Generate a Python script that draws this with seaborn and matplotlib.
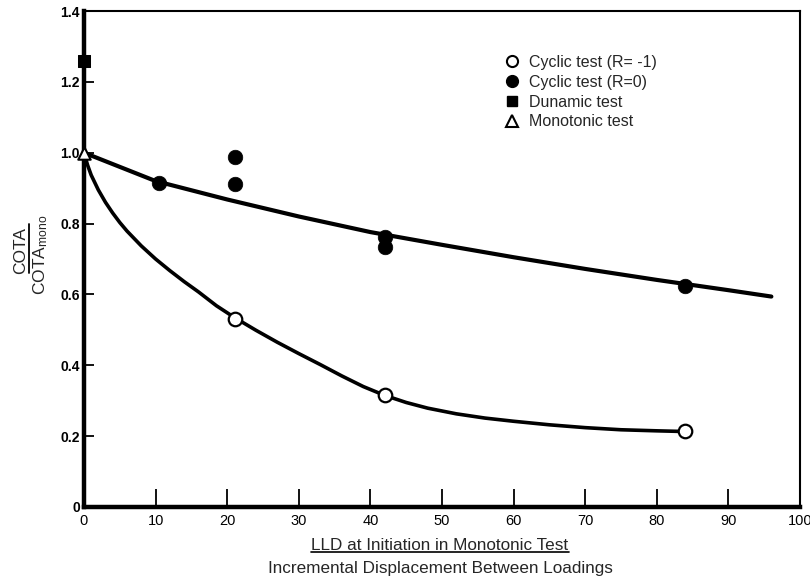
import numpy as np
import pandas as pd
import matplotlib
matplotlib.use("Agg")
import matplotlib.pyplot as plt
import seaborn as sns
from matplotlib.lines import Line2D

# ---- data ----
cyc_m1_x = [21.1, 42.0, 83.9]
cyc_m1_y = [0.532, 0.315, 0.214]

cyc_0_x = [10.5, 21.1, 21.1, 42.1, 42.1, 84.0]
cyc_0_y = [0.915, 0.989, 0.913, 0.763, 0.733, 0.625]

dyn_x = [0.0]
dyn_y = [1.258]

mono_x = [0.0]
mono_y = [1.0]

upper_fit_x = [0, 10, 20, 30, 40, 50, 60, 70, 80, 90, 96]
upper_fit_y = [1.0, 0.92, 0.868, 0.82, 0.776, 0.74, 0.705, 0.672, 0.641, 0.612, 0.594]

lower_fit_x = [0, 0.5, 1, 2, 3, 4, 5, 6, 8, 10, 12, 14, 16, 18.5, 21, 24, 27, 30, 33,
               36, 39, 42, 45, 48, 52, 56, 60, 65, 70, 75, 80, 84]
lower_fit_y = [1.0, 0.965, 0.937, 0.895, 0.86, 0.83, 0.803, 0.779, 0.737, 0.70, 0.667,
               0.636, 0.607, 0.568, 0.535, 0.499, 0.465, 0.433, 0.402,
               0.37, 0.34, 0.315, 0.295, 0.279, 0.263, 0.251, 0.242, 0.232, 0.224,
               0.218, 0.215, 0.213]

x_ticks = [0, 10, 20, 30, 40, 50, 60, 70, 80, 90, 100]
y_ticks = [0, 0.2, 0.4, 0.6, 0.8, 1.0, 1.2, 1.4]
y_tick_labels = ["0", "0.2", "0.4", "0.6", "0.8", "1.0", "1.2", "1.4"]

legend_labels = ["Cyclic test (R= -1)", "Cyclic test (R=0)", "Dunamic test", "Monotonic test"]

# ---- style ----
sns.set_style("ticks")
plt.rcParams["font.family"] = ["Liberation Sans", "DejaVu Sans"]
plt.rcParams["mathtext.fontset"] = "custom"
plt.rcParams["mathtext.rm"] = "Liberation Sans"
plt.rcParams["mathtext.it"] = "Liberation Sans"

W, H = 810, 580
fig = plt.figure(figsize=(8.1, 5.8), dpi=100)
ax = fig.add_axes([84 / W, 1 - 507 / H, (800 - 84) / W, (507 - 11) / H])

# fit curves
sns.lineplot(x=upper_fit_x, y=upper_fit_y, ax=ax, color="black", linewidth=3.0, sort=True, zorder=2)
sns.lineplot(x=lower_fit_x, y=lower_fit_y, ax=ax, color="black", linewidth=2.6, sort=True, zorder=2)

# points
sns.scatterplot(x=cyc_m1_x, y=cyc_m1_y, ax=ax, marker="o", s=95, facecolor="white",
                edgecolor="black", linewidth=1.6, zorder=4, clip_on=False)
sns.scatterplot(x=cyc_0_x, y=cyc_0_y, ax=ax, marker="o", s=110, color="black",
                edgecolor="black", linewidth=0.5, zorder=4, clip_on=False)
sns.scatterplot(x=dyn_x, y=dyn_y, ax=ax, marker="s", s=85, color="black",
                edgecolor="black", zorder=4, clip_on=False)
sns.scatterplot(x=mono_x, y=mono_y, ax=ax, marker="^", s=80, facecolor="white",
                edgecolor="black", linewidth=1.5, zorder=5, clip_on=False)

ax.set_xlim(0, 100)
ax.set_ylim(0, 1.4)
ax.set_xticks(x_ticks)
ax.set_xticklabels([str(v) for v in x_ticks], fontsize=10.5)
ax.set_yticks(y_ticks)
ax.set_yticklabels(y_tick_labels, fontsize=10, fontweight="bold")
ax.tick_params(axis="x", direction="in", length=13, width=1.3, pad=5, colors="black")
ax.tick_params(axis="y", direction="in", length=7, width=1.3, pad=3, colors="black")
ax.set_xlabel("")
ax.set_ylabel("")

for side in ["left", "bottom"]:
    ax.spines[side].set_linewidth(3.2)
for side in ["top", "right"]:
    ax.spines[side].set_linewidth(1.5)
for s in ax.spines.values():
    s.set_color("black")

# legend
handles = [
    Line2D([], [], marker="o", linestyle="none", markersize=8, markerfacecolor="white",
           markeredgecolor="black", markeredgewidth=1.5),
    Line2D([], [], marker="o", linestyle="none", markersize=8.5, markerfacecolor="black",
           markeredgecolor="black"),
    Line2D([], [], marker="s", linestyle="none", markersize=7, markerfacecolor="black",
           markeredgecolor="black"),
    Line2D([], [], marker="^", linestyle="none", markersize=8, markerfacecolor="white",
           markeredgecolor="black", markeredgewidth=1.5),
]
ax.legend(handles, legend_labels, loc="upper left",
          bbox_to_anchor=((504 - 84) / 716, (507 - 55) / 496),
          frameon=False, fontsize=11.5, handletextpad=0.55, labelspacing=0.3,
          handlelength=1.0, borderaxespad=0, borderpad=0)

# y label: COTA over COTA_mono (rotated)
def fx(px):
    return px / W

def fy(py):
    return 1 - py / H

fig.text(fx(21), fy(250), "COTA", rotation=90, ha="center", va="center", fontsize=12.5)
fig.add_artist(Line2D([fx(29), fx(29)], [fy(224), fy(273)], transform=fig.transFigure,
                      color="black", linewidth=1.3))
fig.text(fx(41), fy(255), r"COTA$_{\mathrm{mono}}$", rotation=90, ha="center", va="center",
         fontsize=12.5)

# x labels
t1 = fig.text(fx(440), fy(545), "LLD at Initiation in Monotonic Test",
              ha="center", va="center", fontsize=12.3)
t2 = fig.text(fx(440), fy(568), "Incremental Displacement Between Loadings",
              ha="center", va="center", fontsize=12.3)

fig.canvas.draw()
bb = t1.get_window_extent(renderer=fig.canvas.get_renderer())
bbf = bb.transformed(fig.transFigure.inverted())
fig.add_artist(Line2D([bbf.x0, bbf.x1], [bbf.y0 + 0.001, bbf.y0 + 0.001],
                      transform=fig.transFigure, color="black", linewidth=1.2))

fig.savefig("out.png", dpi=100)
